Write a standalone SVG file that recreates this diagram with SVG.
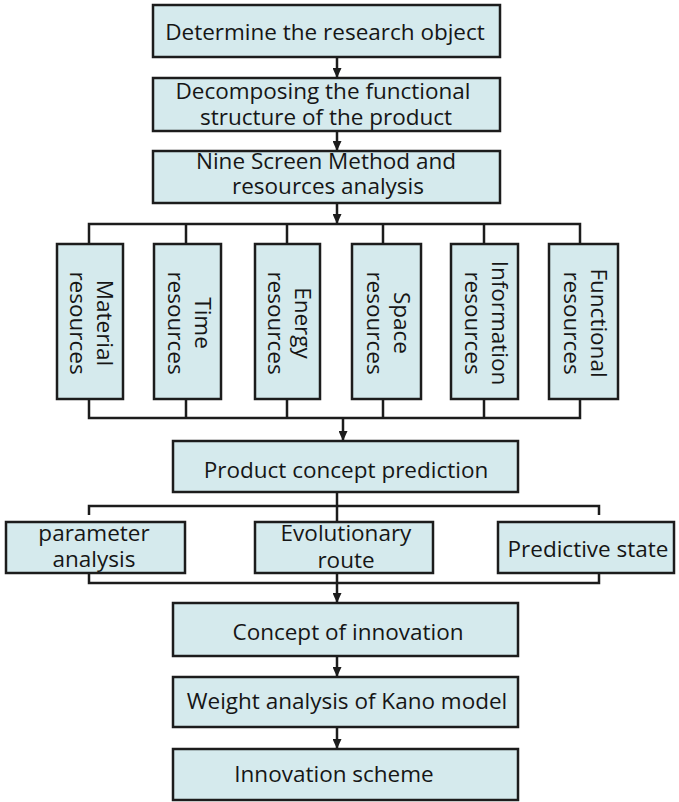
<svg xmlns="http://www.w3.org/2000/svg" width="679" height="802" viewBox="0 0 679 802">
<defs>
<style>
.box{fill:#d5eaed;stroke:#1c1c1c;stroke-width:2.5}
.t{font-family:"Open Sans","Noto Sans",sans-serif;font-size:22.5px;fill:#161616;text-anchor:middle}
.c{fill:none;stroke:#1c1c1c;stroke-width:2.5}
</style>
<marker id="ah" markerWidth="10" markerHeight="9" refX="9" refY="4.5" orient="auto" markerUnits="userSpaceOnUse">
<path d="M0,0 L10,4.5 L0,9 Z" fill="#1c1c1c"/>
</marker>
</defs>
<rect width="679" height="802" fill="#fff"/>
<g id="connectors">
<path class="c" d="M337,57 V77" marker-end="url(#ah)"/>
<path class="c" d="M337,131 V150" marker-end="url(#ah)"/>
<path class="c" d="M337,203 V223" marker-end="url(#ah)"/>
<path class="c" d="M89,244 V224 H580 V244 M186,224 V244 M287,224 V244 M383,224 V244 M484,224 V244"/>
<path class="c" d="M89,399 V418 H580 V399 M186,418 V399 M287,418 V399 M383,418 V399 M484,418 V399"/>
<path class="c" d="M343,418 V440" marker-end="url(#ah)"/>
<path class="c" d="M337,492 V522"/>
<path class="c" d="M89,515 V506 H599 V515"/>
<path class="c" d="M89,573 V583 H599 V573"/>
<path class="c" d="M337,573 V602" marker-end="url(#ah)"/>
<path class="c" d="M337,656 V676" marker-end="url(#ah)"/>
<path class="c" d="M337,727 V748" marker-end="url(#ah)"/>
</g>
<g id="n1"><rect class="box" x="153" y="5" width="347" height="52"/><text class="t" x="325" y="40">Determine the research object</text></g>
<g id="n2"><rect class="box" x="153" y="78" width="347" height="53"/><text class="t" x="323" y="99">Decomposing the functional</text><text class="t" x="326" y="125">structure of the product</text></g>
<g id="n3"><rect class="box" x="153" y="151" width="347" height="52"/><text class="t" x="326" y="169">Nine Screen Method and</text><text class="t" x="328" y="194">resources analysis</text></g>
<g id="r1"><rect class="box" x="57" y="244" width="66" height="155"/><g transform="translate(90,323) rotate(90)"><text class="t" x="0" y="-7">Material</text><text class="t" x="0" y="20">resources</text></g></g>
<g id="r2"><rect class="box" x="154" y="244" width="67" height="155"/><g transform="translate(187.5,323) rotate(90)"><text class="t" x="0" y="-7">Time</text><text class="t" x="0" y="20">resources</text></g></g>
<g id="r3"><rect class="box" x="255" y="244" width="65" height="155"/><g transform="translate(287.5,323) rotate(90)"><text class="t" x="0" y="-7">Energy</text><text class="t" x="0" y="20">resources</text></g></g>
<g id="r4"><rect class="box" x="352" y="244" width="69" height="155"/><g transform="translate(386.5,323) rotate(90)"><text class="t" x="0" y="-7">Space</text><text class="t" x="0" y="20">resources</text></g></g>
<g id="r5"><rect class="box" x="451" y="244" width="67" height="155"/><g transform="translate(484.5,323) rotate(90)"><text class="t" x="0" y="-7">Information</text><text class="t" x="0" y="20">resources</text></g></g>
<g id="r6"><rect class="box" x="549" y="244" width="69" height="155"/><g transform="translate(583.5,323) rotate(90)"><text class="t" x="0" y="-7">Functional</text><text class="t" x="0" y="20">resources</text></g></g>
<g id="n4"><rect class="box" x="173" y="441" width="345" height="51"/><text class="t" x="346" y="478">Product concept prediction</text></g>
<g id="p1"><rect class="box" x="6" y="522" width="179" height="51"/><text class="t" x="94" y="541">parameter</text><text class="t" x="94" y="567">analysis</text></g>
<g id="p2"><rect class="box" x="255" y="522" width="178" height="51"/><text class="t" x="346" y="541">Evolutionary</text><text class="t" x="346" y="568">route</text></g>
<g id="p3"><rect class="box" x="498" y="522" width="176" height="51"/><text class="t" x="588" y="557">Predictive state</text></g>
<g id="n5"><rect class="box" x="173" y="603" width="345" height="53"/><text class="t" x="348" y="640">Concept of innovation</text></g>
<g id="n6"><rect class="box" x="173" y="677" width="345" height="50"/><text class="t" x="347" y="709">Weight analysis of Kano model</text></g>
<g id="n7"><rect class="box" x="173" y="749" width="345" height="51"/><text class="t" x="334" y="782">Innovation scheme</text></g>
</svg>
